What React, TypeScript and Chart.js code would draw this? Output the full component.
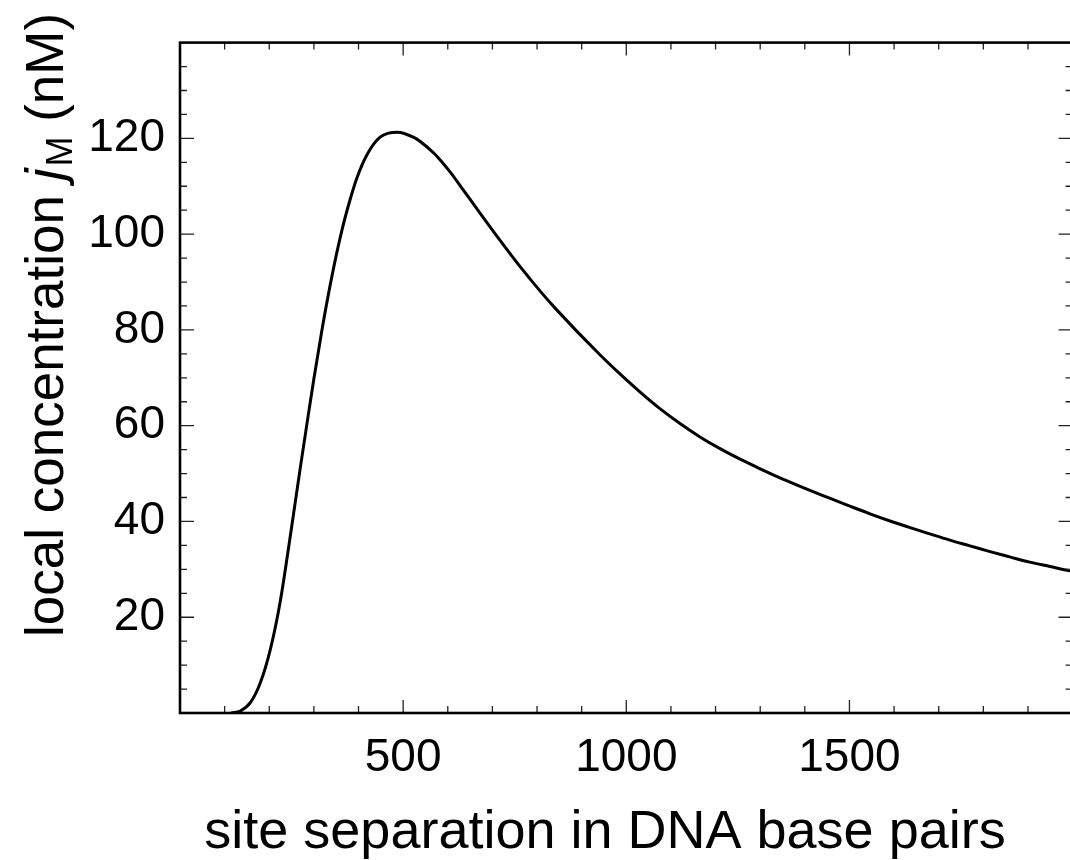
import React, { useEffect, useRef } from 'react';
import { Chart, registerables } from 'chart.js';

Chart.register(...registerables);

// site separation (bp)
const basePairs = [
  115, 135, 158, 180, 203, 225, 248, 270, 289, 300, 319, 341, 363, 382, 397, 419, 449, 487,
  524, 539, 569, 584, 606, 628, 673, 718, 763, 807, 841, 942, 987, 1031, 1076, 1121, 1166, 1210,
  1255, 1300, 1352, 1457, 1501, 1546, 1591, 1636, 1680, 1725, 1770, 1815, 1859, 1904, 1949, 1994, 2000,
];
// local concentration j_M (nM)
const localConc = [
  0, 0.4, 2.2, 6.3, 13.5, 23.5, 37.5, 51.5, 63.2, 69.8, 80.5, 91.5, 100.9, 107.5, 111.9, 116.6, 120.3, 121.3,
  120.2, 119.3, 116.9, 115.4, 112.9, 110.1, 104.3, 98.6, 93.1, 88.1, 84.5, 74.7, 70.7, 67.0, 63.5, 60.4, 57.6, 55.2,
  53.0, 51.0, 48.8, 44.8, 43.2, 41.6, 40.1, 38.7, 37.4, 36.1, 34.9, 33.7, 32.6, 31.5, 30.6, 29.7, 29.6,
];

const xLabelValues = [500, 1000, 1500];
const yLabelValues = [20, 40, 60, 80, 100, 120];

const X_MIN = 0;
const X_MAX = 2000;
const Y_MIN = 0;
const Y_MAX = 140;
const X_MAJOR = 500;
const X_MINOR = 100;
const Y_MAJOR = 20;
const Y_MINOR = 5;

const FONT = '"Liberation Sans", Arial, Helvetica, sans-serif';
const X_TITLE = 'site separation in DNA base pairs';
const Y_TITLE_A = 'local concentration ';
const Y_TITLE_J = 'j';
const Y_TITLE_SUB = 'M';
const Y_TITLE_B = ' (nM)';

const framePlugin = {
  id: 'frameTicks',
  afterDatasetsDraw(chart: any) {
    const { ctx, chartArea } = chart;
    const { left, right, top, bottom } = chartArea;
    const xs = chart.scales.x;
    const ys = chart.scales.y;
    ctx.save();
    ctx.strokeStyle = '#222';
    ctx.lineWidth = 1.3;
    ctx.beginPath();
    for (let v = X_MIN + X_MINOR; v < X_MAX; v += X_MINOR) {
      const px = xs.getPixelForValue(v);
      const len = v % X_MAJOR === 0 ? 13 : 7;
      ctx.moveTo(px, bottom);
      ctx.lineTo(px, bottom - len);
      ctx.moveTo(px, top);
      ctx.lineTo(px, top + len);
    }
    for (let v = Y_MIN + Y_MINOR; v < Y_MAX; v += Y_MINOR) {
      const py = ys.getPixelForValue(v);
      const len = v % Y_MAJOR === 0 ? 14 : 7;
      ctx.moveTo(left, py);
      ctx.lineTo(left + len, py);
      ctx.moveTo(right, py);
      ctx.lineTo(right - len, py);
    }
    ctx.stroke();
    ctx.strokeStyle = '#000';
    ctx.lineWidth = 2.6;
    ctx.strokeRect(left, top, right - left, bottom - top);
    ctx.restore();
  },
  afterDraw(chart: any) {
    const { ctx } = chart;
    ctx.save();
    ctx.fillStyle = '#000';
    // x title
    ctx.font = `54px ${FONT}`;
    ctx.textAlign = 'center';
    ctx.textBaseline = 'alphabetic';
    ctx.fillText(X_TITLE, 605, 848);
    // y title (rotated)
    ctx.translate(63, 637);
    ctx.rotate(-Math.PI / 2);
    ctx.textAlign = 'left';
    let cx = 0;
    ctx.font = `53px ${FONT}`;
    ctx.fillText(Y_TITLE_A, cx, 0);
    cx += ctx.measureText(Y_TITLE_A).width;
    ctx.font = `italic 53px ${FONT}`;
    ctx.fillText(Y_TITLE_J, cx, 0);
    cx += ctx.measureText(Y_TITLE_J).width + 2;
    ctx.font = `36px ${FONT}`;
    ctx.fillText(Y_TITLE_SUB, cx, 9);
    cx += ctx.measureText(Y_TITLE_SUB).width;
    ctx.font = `53px ${FONT}`;
    ctx.fillText(Y_TITLE_B, cx, 0);
    ctx.restore();
  },
};

export default function App() {
  const ref = useRef<HTMLCanvasElement | null>(null);

  useEffect(() => {
    if (!ref.current) return;
    const points = basePairs.map((x, i) => ({ x, y: localConc[i] }));
    const chart = new Chart(ref.current, {
      type: 'line',
      data: {
        datasets: [
          {
            data: points,
            borderColor: '#000',
            borderWidth: 3,
            pointRadius: 0,
            fill: false,
            cubicInterpolationMode: 'monotone',
          },
        ],
      },
      options: {
        animation: false,
        responsive: false,
        maintainAspectRatio: false,
        layout: { padding: { left: 0, top: 42, right: 7.4, bottom: 0 } },
        plugins: { legend: { display: false }, tooltip: { enabled: false } },
        scales: {
          x: {
            type: 'linear',
            min: X_MIN,
            max: X_MAX,
            grid: { display: false, drawTicks: false },
            border: { display: false },
            ticks: {
              stepSize: X_MAJOR,
              autoSkip: false,
              maxRotation: 0,
              padding: 18,
              color: '#000',
              font: { family: FONT, size: 46 },
              callback: (v: any) => (xLabelValues.includes(Number(v)) ? String(v) : null),
            },
            afterFit: (s: any) => {
              s.height = 147;
            },
          },
          y: {
            type: 'linear',
            min: Y_MIN,
            max: Y_MAX,
            grid: { display: false, drawTicks: false },
            border: { display: false },
            ticks: {
              stepSize: Y_MAJOR,
              autoSkip: false,
              padding: 15,
              color: '#000',
              font: { family: FONT, size: 46 },
              callback: (v: any) => (yLabelValues.includes(Number(v)) ? String(v) : null),
            },
            afterFit: (s: any) => {
              s.width = 180;
            },
          },
        },
      },
      plugins: [framePlugin],
    } as any);
    return () => chart.destroy();
  }, []);

  return (
    <div
      style={{
        position: 'fixed',
        left: 0,
        top: 0,
        width: 1070,
        height: 860,
        overflow: 'hidden',
        background: '#fff',
      }}
    >
      <canvas ref={ref} width={1080} height={860} style={{ display: 'block' }} />
    </div>
  );
}
